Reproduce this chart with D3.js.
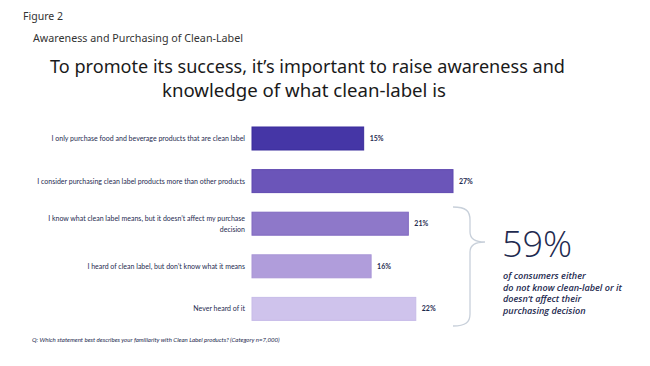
<!DOCTYPE html>
<html lang="en">
	<head>
		<meta charset="utf-8">
		<title>Awareness and Purchasing of Clean-Label</title>
		<script src="https://cdn.jsdelivr.net/npm/d3@7"></script>
		<style type="text/css">
			body { margin: 0; background: #fff; }
		</style>
	</head>
	<body>
		<script type="text/javascript">
			//Width and height
			var w = 650;
			var h = 366;

			//data
			var categories = [
				"I only purchase food and beverage products that are clean label",
				"I consider purchasing clean label products more than other products",
				"I know what clean label means, but it doesn't affect my purchase decision",
				"I heard of clean label, but don't know what it means",
				"Never heard of it"
			];
			//how the long labels break onto lines
			var labelLines = [
				["I only purchase food and beverage products that are clean label"],
				["I consider purchasing clean label products more than other products"],
				["I know what clean label means, but it doesn\u2019t affect my purchase", "decision"],
				["I heard of clean label, but don\u2019t know what it means"],
				["Never heard of it"]
			];
			var values = [15, 27, 21, 16, 22];
			var barColors = ["#4536a6", "#6b55b9", "#8e78c9", "#b09ddb", "#cfc3ec"];
			var strokeColors = ["#3b2d9c", "#5f49b0", "#8068c0", "#a996d6", "#c7bbe8"];

			var calloutValue = "59%";
			var calloutLines = [
				"of consumers either",
				"do not know clean-label or it",
				"doesn\u2019t affect their",
				"purchasing decision"
			];

			var ink = "#1e2a4f";

			//scales
			var xScale = d3.scaleLinear()
							.domain([0, d3.max(values)])
							.range([252, 453]);

			var yScale = d3.scaleBand()
							.domain(categories)
							.range([117.2, 330.2])
							.paddingInner(0.46)
							.paddingOuter(0.23);

			//Create SVG element
			var svg = d3.select("body")
						.append("svg")
						.attr("width", w)
						.attr("height", h);

			//headings
			svg.append("text")
				.attr("x", 23)
				.attr("y", 20)
				.attr("font-family", "Noto Sans, sans-serif")
				.attr("font-size", "10px")
				.attr("fill", "#333")
				.attr("textLength", 40)
				.attr("lengthAdjust", "spacingAndGlyphs")
				.text("Figure 2");

			svg.append("text")
				.attr("x", 33)
				.attr("y", 42)
				.attr("font-family", "Noto Sans, sans-serif")
				.attr("font-size", "11.5px")
				.attr("fill", "#333")
				.attr("textLength", 210)
				.attr("lengthAdjust", "spacingAndGlyphs")
				.text("Awareness and Purchasing of Clean-Label");

			var titleLines = [
				{ t: "To promote its success, it\u2019s important to raise awareness and", x: 50, y: 73, len: 515 },
				{ t: "knowledge of what clean-label is", x: 162, y: 97, len: 284 }
			];
			svg.append("g")
				.selectAll("text")
				.data(titleLines)
				.enter()
				.append("text")
				.attr("x", function(d) { return d.x; })
				.attr("y", function(d) { return d.y; })
				.attr("font-family", "Noto Sans, sans-serif")
				.attr("font-size", "18.5px")
				.attr("fill", "#1a1a1a")
				.attr("textLength", function(d) { return d.len; })
				.attr("lengthAdjust", "spacingAndGlyphs")
				.text(function(d) { return d.t; });

			//Create bars
			svg.append("g")
				.attr("id", "bars")
				.selectAll("rect")
				.data(values)
				.enter()
				.append("rect")
				.attr("x", xScale(0))
				.attr("y", function(d, i) { return yScale(categories[i]); })
				.attr("width", function(d) { return xScale(d) - xScale(0); })
				.attr("height", yScale.bandwidth())
				.attr("fill", function(d, i) { return barColors[i]; })
				.attr("stroke", function(d, i) { return strokeColors[i]; })
				.attr("stroke-width", 1);

			//value labels
			svg.append("g")
				.selectAll("text")
				.data(values)
				.enter()
				.append("text")
				.attr("x", function(d) { return xScale(d) + 6; })
				.attr("y", function(d, i) { return yScale(categories[i]) + yScale.bandwidth() / 2 + 2.5; })
				.attr("font-family", "Lato, sans-serif")
				.attr("font-weight", "bold")
				.attr("font-size", "7px")
				.attr("fill", ink)
				.text(function(d) { return d + "%"; });

			//category labels
			var cat = svg.append("g")
				.selectAll("text")
				.data(categories)
				.enter()
				.append("text")
				.attr("text-anchor", "end")
				.attr("font-family", "Lato, sans-serif")
				.attr("font-size", "7px")
				.attr("fill", ink)
				.attr("y", function(d, i) {
					var n = labelLines[i].length;
					return yScale(d) + yScale.bandwidth() / 2 + 2.4 - (n - 1) * 5.5;
				});
			cat.each(function(d, i) {
				var t = d3.select(this);
				labelLines[i].forEach(function(line, j) {
					t.append("tspan")
						.attr("x", 245)
						.attr("dy", j === 0 ? 0 : 11)
						.text(line);
				});
			});

			//footnote
			svg.append("text")
				.attr("x", 32)
				.attr("y", 342)
				.attr("font-family", "Lato, sans-serif")
				.attr("font-style", "italic")
				.attr("font-size", "6.1px")
				.attr("fill", ink)
				.text("Q: Which statement best describes your familiarity with Clean Label products? (Category n=7,000)");

			//brace over the last three bars
			svg.append("path")
				.attr("d", "M453,207 C466,207 470,211 470,220 L470,232 C470,239 476,242 485,242" +
					" C476,242 470,245 470,252 L470,314 C470,322 466,326 453,326")
				.attr("fill", "none")
				.attr("stroke", "#c8d0da")
				.attr("stroke-width", 1.3);

			//callout
			svg.append("text")
				.attr("x", 502)
				.attr("y", 257)
				.attr("font-family", "Open Sans, sans-serif")
				.attr("font-weight", 300)
				.attr("font-size", "36px")
				.attr("fill", ink)
				.text(calloutValue);

			svg.append("g")
				.selectAll("text")
				.data(calloutLines)
				.enter()
				.append("text")
				.attr("x", 503)
				.attr("y", function(d, i) { return 279 + i * 11.6; })
				.attr("font-family", "Open Sans, sans-serif")
				.attr("font-style", "italic")
				.attr("font-weight", 600)
				.attr("font-size", "9.1px")
				.attr("fill", ink)
				.text(function(d) { return d; });
		</script>
	</body>
</html>
